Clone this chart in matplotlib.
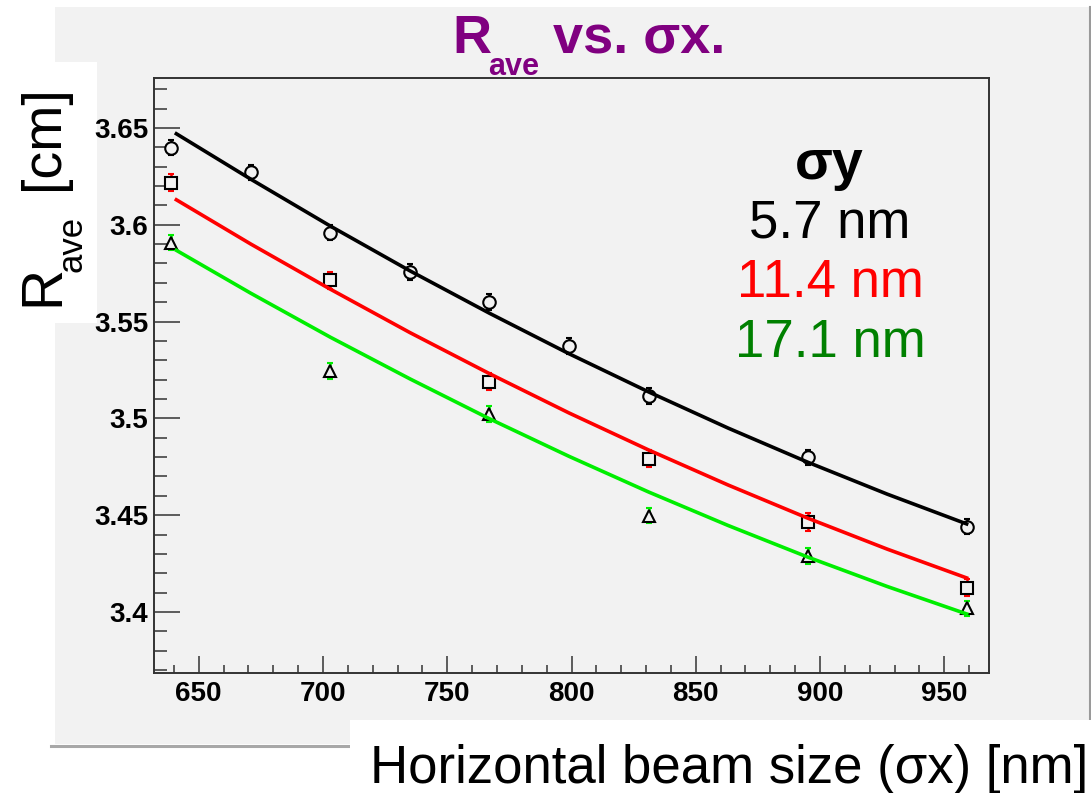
import matplotlib
matplotlib.use('Agg')
import matplotlib.pyplot as plt
from matplotlib.patches import Rectangle
from matplotlib.lines import Line2D
from matplotlib.ticker import MultipleLocator, FuncFormatter

plt.rcParams['font.family'] = ['Liberation Sans', 'DejaVu Sans']

W, H = 1091, 793

# horizontal beam size scan [nm]
sx_all = [639, 671, 703, 735, 767, 799, 831, 895, 959]
sx_sub = [639, 703, 767, 831, 895, 959]

# measured R_ave [cm] for each vertical beam size
r_57 = [3.6398, 3.6271, 3.5959, 3.5756, 3.5600, 3.5374, 3.5115, 3.4799, 3.4441]
r_114 = [3.6217, 3.5713, 3.5190, 3.4792, 3.4465, 3.4126]
r_171 = [3.5908, 3.5245, 3.5023, 3.4498, 3.4290, 3.4019]
err_57 = [0.004, 0.004, 0.004, 0.004, 0.004, 0.004, 0.004, 0.004, 0.004]
err_114 = [0.0045, 0.0045, 0.0045, 0.0045, 0.0045, 0.0045]
err_171 = [0.004, 0.004, 0.004, 0.004, 0.004, 0.004]

# fitted curves
fit_x = [641, 671, 703, 735, 767, 799, 831, 863, 895, 927, 959]
fit_57 = [3.6470, 3.6235, 3.5993, 3.5762, 3.5543, 3.5334, 3.5137, 3.4950, 3.4774, 3.4609, 3.4455]
fit_114 = [3.6129, 3.5900, 3.5667, 3.5443, 3.5231, 3.5028, 3.4837, 3.4656, 3.4485, 3.4325, 3.4176]
fit_171 = [3.5868, 3.5646, 3.5419, 3.5204, 3.4998, 3.4804, 3.4620, 3.4447, 3.4284, 3.4132, 3.3990]

legend_labels = ['5.7 nm', '11.4 nm', '17.1 nm']
legend_colors = ['black', '#ff0000', '#008000']


def px(x, y):
    return x / W, 1 - y / H


fig = plt.figure(figsize=(W / 100, H / 100), dpi=100, facecolor='white')

# canvas background, shadow and white label boxes
bg = '#f2f2f2'
fig.patches.append(Rectangle(px(55, 744), 1035 / W, 737 / H, transform=fig.transFigure,
                             facecolor=bg, edgecolor='none', zorder=-3))
fig.lines.append(Line2D([51 / W, 1090 / W], [1 - 745.5 / H] * 2, transform=fig.transFigure,
                        color='#a8a8a8', lw=2.2, zorder=-2))
fig.lines.append(Line2D([1090 / W] * 2, [1 - 7 / H, 1 - 745 / H], transform=fig.transFigure,
                        color='#9a9a9a', lw=1.5, zorder=-2))
fig.patches.append(Rectangle(px(0, 323), 97 / W, 261 / H, transform=fig.transFigure,
                             facecolor='white', edgecolor='none', zorder=-1))
fig.patches.append(Rectangle(px(350, 793), 741 / W, 73 / H, transform=fig.transFigure,
                             facecolor='white', edgecolor='none', zorder=-1))

ax = fig.add_axes([154 / W, 1 - 673 / H, (989 - 154) / W, (673 - 78) / H])
ax.set_facecolor(bg)

ax.plot(fit_x, fit_57, color='black', lw=2.6, zorder=5)
ax.plot(fit_x, fit_114, color='#ff0000', lw=2.6, zorder=5)
ax.plot(fit_x, fit_171, color='#00ee00', lw=2.6, zorder=5)

mk = dict(ls='none', ms=9, mec='black', mfc=bg, mew=1.5, capsize=2.5, capthick=2.4,
          elinewidth=1.8, zorder=4)
ax.errorbar(sx_all, r_57, yerr=err_57, marker='o', ecolor='black', **mk)
ax.errorbar(sx_sub, r_114, yerr=err_114, marker='s', ecolor='#ff0000', **mk)
ax.errorbar(sx_sub, r_171, yerr=err_171, marker='^', ecolor='#00ee00', **mk)

ax.set_xlim(632, 968)
ax.set_ylim(3.3685, 3.6758)
ax.xaxis.set_major_locator(MultipleLocator(50))
ax.xaxis.set_minor_locator(MultipleLocator(10))
ax.yaxis.set_major_locator(MultipleLocator(0.05))
ax.yaxis.set_minor_locator(MultipleLocator(0.01))
ax.yaxis.set_major_formatter(FuncFormatter(lambda v, p: f'{v:g}'))

for s in ax.spines.values():
    s.set_color('#333333')
    s.set_linewidth(1.4)
ax.tick_params(which='both', direction='in', color='#333333', width=1.1,
               top=False, right=False)
ax.tick_params(axis='y', which='major', length=18.7, pad=4)
ax.tick_params(axis='y', which='minor', length=9.4)
ax.tick_params(axis='x', which='major', length=12.2, pad=6)
ax.tick_params(axis='x', which='minor', length=5.8)
for lab in ax.get_xticklabels() + ax.get_yticklabels():
    lab.set_fontsize(20)
    lab.set_fontweight('bold')

# title
purple = '#800080'
fig.text(*px(452, 53), 'R', color=purple, fontsize=39, fontweight='bold', va='baseline')
fig.text(*px(488, 75), 'ave', color=purple, fontsize=22, fontweight='bold', va='baseline')
fig.text(*px(553, 53), 'vs. σx.', color=purple, fontsize=39, fontweight='bold', va='baseline')

# y axis label
rot = dict(rotation=90, rotation_mode='anchor', ha='left', va='baseline', color='black')
fig.text(*px(58, 306), 'R', fontsize=41, **rot)
fig.text(*px(81, 272), 'ave', fontsize=25, **rot)
fig.text(*px(58, 190), '[cm]', fontsize=40, **rot)

# x axis label
fig.text(*px(370, 783), 'Horizontal beam size (σx) [nm]', fontsize=38, color='black',
         va='baseline')

# legend block
fig.text(*px(829, 179), 'σy', fontsize=40, fontweight='bold', ha='center', va='baseline')
for i, (lab, c) in enumerate(zip(legend_labels, legend_colors)):
    fig.text(*px(830, 237 + 60 * i), lab, fontsize=38, color=c, ha='center', va='baseline')

fig.savefig('out.png', dpi=100)
